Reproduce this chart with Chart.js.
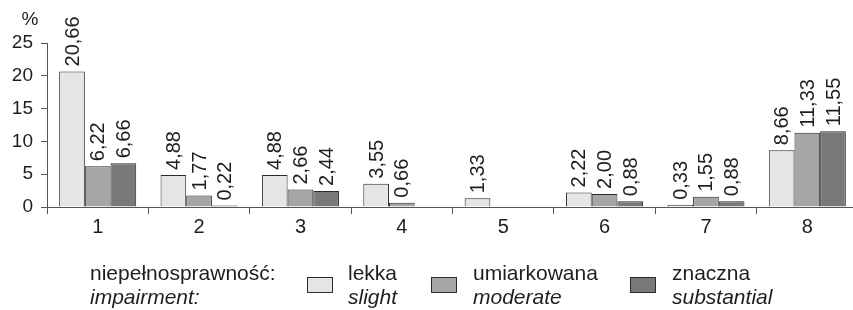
<!DOCTYPE html>
<html>
<head>
<meta charset="utf-8">
<script src="https://cdn.jsdelivr.net/npm/chart.js@4"></script>
<style>
  html, body { margin: 0; padding: 0; background: #ffffff; overflow: hidden; width: 853px; height: 310px; }
  #wrap { position: absolute; left: 0; top: 0; width: 870px; height: 310px; }
  .lg { position: absolute; font-family: "Liberation Sans", Arial, sans-serif; font-size: 21px; line-height: 24px; color: #1e1e1e; white-space: nowrap; }
  .lg i { font-style: italic; }
  .box { position: absolute; width: 24px; height: 14px; border: 1px solid #2a2a2a; }
</style>
</head>
<body>
<div id="wrap"><canvas id="c" width="870" height="310"></canvas></div>
<script>
const categories = ['1', '2', '3', '4', '5', '6', '7', '8'];
const seriesNamesPl = ['lekka', 'umiarkowana', 'znaczna'];
const seriesNamesEn = ['slight', 'moderate', 'substantial'];
const slight = [20.66, 4.88, 4.88, 3.55, 1.33, 2.22, 0.33, 8.66];
const moderate = [6.22, 1.77, 2.66, 0.66, 0, 2.00, 1.55, 11.33];
const substantial = [6.66, 0.22, 2.44, 0, 0, 0.88, 0.88, 11.55];
const yTicks = [0, 5, 10, 15, 20, 25];
const legendTitlePl = 'niepełnosprawność:';
const legendTitleEn = 'impairment:';
const unitLabel = '%';

const colors = ['#e4e5e6', '#a5a6a8', '#78797b'];
const FONT = '"Liberation Sans", Arial, sans-serif';
const TXT = '#1e1e1e';
const AX = '#555555';

const valueLabels = {
  id: 'valueLabels',
  afterDatasetsDraw(chart) {
    const ctx = chart.ctx;
    ctx.save();
    ctx.fillStyle = TXT;
    ctx.font = '20px ' + FONT;
    ctx.textAlign = 'left';
    ctx.textBaseline = 'middle';
    chart.data.datasets.forEach((ds, i) => {
      const meta = chart.getDatasetMeta(i);
      meta.data.forEach((el, j) => {
        const v = ds.data[j];
        if (!v) return;
        ctx.save();
        ctx.translate(el.x, el.y - 5);
        ctx.rotate(-Math.PI / 2);
        ctx.fillText(v.toFixed(2).replace('.', ','), 0, 1);
        ctx.restore();
      });
    });
    // unit label
    ctx.font = '19px ' + FONT;
    ctx.textAlign = 'center';
    ctx.fillText(unitLabel, chart.chartArea.left - 17, chart.chartArea.top - 23);
    ctx.restore();
  }
};

const series = [slight, moderate, substantial];
new Chart(document.getElementById('c'), {
  type: 'bar',
  data: {
    labels: categories,
    datasets: series.map((d, i) => ({
      label: seriesNamesPl[i],
      data: d,
      backgroundColor: colors[i],
      borderColor: '#2a2a2a',
      borderWidth: 1,
      borderSkipped: 'start',
      barPercentage: 1.0,
      categoryPercentage: 0.76
    }))
  },
  options: {
    responsive: false,
    animation: false,
    devicePixelRatio: 1,
    layout: { padding: { left: 0, right: 12, top: 43, bottom: 0 } },
    plugins: { legend: { display: false }, tooltip: { enabled: false } },
    scales: {
      x: {
        offset: true,
        grid: { display: true, offset: true, drawOnChartArea: false, drawTicks: true, tickLength: 7, color: AX, lineWidth: 1 },
        border: { display: true, color: AX, width: 1 },
        ticks: { color: TXT, font: { family: FONT, size: 20 }, padding: 1, maxRotation: 0, autoSkip: false },
        afterFit(s) { s.height = 103; }
      },
      y: {
        min: 0, max: 25,
        afterBuildTicks(s) { s.ticks = yTicks.map(v => ({ value: v })); },
        grid: { display: true, drawOnChartArea: false, drawTicks: true, tickLength: 6, color: AX, lineWidth: 1 },
        border: { display: true, color: AX, width: 1 },
        ticks: { color: TXT, font: { family: FONT, size: 19 }, padding: 8 },
        afterFit(s) { s.width = 47; }
      }
    }
  },
  plugins: [valueLabels]
});

// HTML legend
const wrap = document.getElementById('wrap');
function addText(left, top, pl, en) {
  const d = document.createElement('div');
  d.className = 'lg';
  d.style.left = left + 'px';
  d.style.top = top + 'px';
  d.innerHTML = '';
  const a = document.createElement('div'); a.textContent = pl;
  const b = document.createElement('div'); const it = document.createElement('i'); it.textContent = en; b.appendChild(it);
  d.appendChild(a); d.appendChild(b);
  wrap.appendChild(d);
}
addText(90, 261, legendTitlePl, legendTitleEn);
const boxLefts = [307, 431, 630];
const textLefts = [348, 473, 672];
seriesNamesPl.forEach((n, i) => {
  const bx = document.createElement('div');
  bx.className = 'box';
  bx.style.left = boxLefts[i] + 'px';
  bx.style.top = '277px';
  bx.style.background = colors[i];
  wrap.appendChild(bx);
  addText(textLefts[i], 261, n, seriesNamesEn[i]);
});
</script>
</body>
</html>
